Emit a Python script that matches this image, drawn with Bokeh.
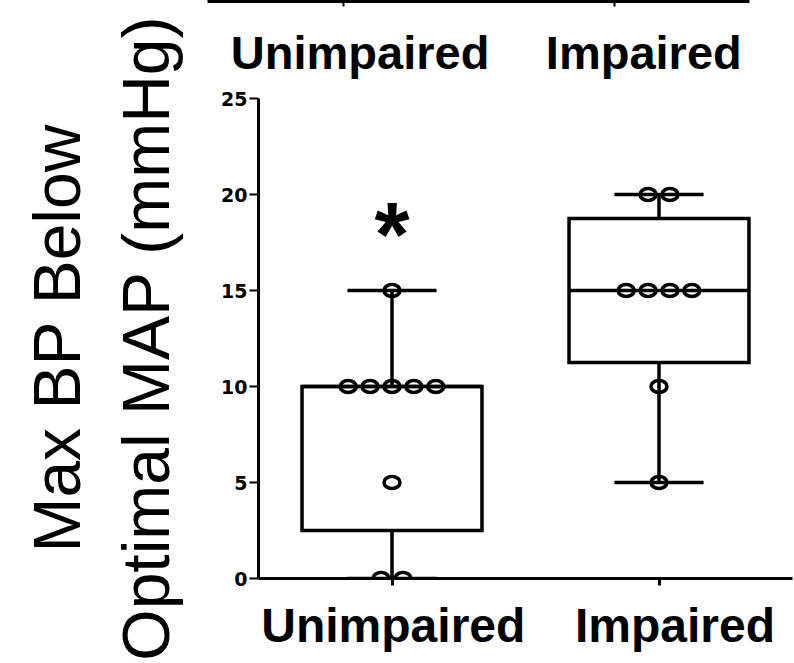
import numpy as np
from bokeh.plotting import figure
from bokeh.models import Range1d, FixedTicker, LinearAxis
from bokeh.layouts import row, column
from bokeh.core.properties import value
from bokeh.embed import file_html
from bokeh.resources import INLINE

# ---- data ---------------------------------------------------------------
groups = ["Unimpaired", "Impaired"]
unimpaired = [0, 0, 5, 10, 10, 10, 10, 10, 15]
impaired = [5, 10, 15, 15, 15, 15, 20, 20]
y_ticks = [0, 5, 10, 15, 20, 25]
y_label = "Max BP Below\nOptimal MAP (mmHg)"
significance = "*"

series = [unimpaired, impaired]
positions = list(range(len(groups)))

# ---- styling ------------------------------------------------------------
BOLD_FONT = "Liberation Sans"
TICK_FONT = "DejaVu Sans"
BOX_WIDTH = 0.674      # box width in x units
CAP_WIDTH = 0.334      # whisker cap width in x units
SPREAD = 0.082         # horizontal spacing of tied points in x units
LW = 3.5
# category names sit slightly right of their tick marks (x units)
MAIN_LABEL_SHIFT = [0.005, 0.06]
TOP_LABEL_SHIFT = [0.063, 0.11]

# quartiles with the (n+1)p rule
q1 = [float(np.percentile(s, 25, method="weibull")) for s in series]
med = [float(np.percentile(s, 50, method="weibull")) for s in series]
q3 = [float(np.percentile(s, 75, method="weibull")) for s in series]
lo = [min(s) for s in series]
hi = [max(s) for s in series]

# spread tied values side by side around the group centre
px, py = [], []
for i, s in zip(positions, series):
    vals, counts = np.unique(s, return_counts=True)
    for v, c in zip(vals, counts):
        for k in range(c):
            px.append(i + (k - (c - 1) / 2) * SPREAD)
            py.append(float(v))


def tick_only_axis(axis, tick_out, tick_width):
    axis.ticker = FixedTicker(ticks=positions)
    axis.major_label_overrides = {pos: "" for pos in positions}
    axis.major_label_text_font_size = "0px"
    axis.major_label_standoff = 0
    axis.axis_line_width = 3
    axis.axis_line_color = "black"
    axis.major_tick_out = tick_out
    axis.major_tick_in = 0
    axis.major_tick_line_width = tick_width
    axis.minor_tick_out = 0
    axis.minor_tick_in = 0


def category_label_axis(shift, standoff, size):
    locs = [pos + d for pos, d in zip(positions, shift)]
    ax = LinearAxis(ticker=FixedTicker(ticks=locs),
                    major_label_overrides={loc: g for loc, g in zip(locs, groups)})
    ax.axis_line_color = None
    ax.major_tick_out = 0
    ax.major_tick_in = 0
    ax.minor_tick_out = 0
    ax.minor_tick_in = 0
    ax.major_label_standoff = standoff
    ax.major_label_text_font = BOLD_FONT
    ax.major_label_text_font_style = "bold"
    ax.major_label_text_font_size = size
    ax.major_label_text_color = "black"
    return ax


# ---- y-axis title panel -------------------------------------------------
title_fig = figure(width=200, height=663, x_axis_location=None,
                   output_backend="svg", toolbar_location=None,
                   min_border_left=199, min_border_right=0,
                   min_border_top=12, min_border_bottom=0,
                   x_range=Range1d(0, 1), y_range=Range1d(0, 1),
                   frame_align=False)
title_fig.outline_line_color = None
title_fig.grid.visible = False
ya = title_fig.yaxis[0]
ya.ticker = FixedTicker(ticks=[])
ya.axis_line_color = None
ya.major_tick_out = 0
ya.major_tick_in = 0
ya.minor_tick_out = 0
ya.minor_tick_in = 0
ya.major_label_standoff = 0
ya.major_label_text_font_size = "0px"
ya.axis_label = y_label
ya.axis_label_text_font = "Liberation Sans"
ya.axis_label_text_font_style = "normal"
ya.axis_label_text_font_size = "66px"
ya.axis_label_text_color = "black"
ya.axis_label_standoff = 17

# ---- upper panel's category axis ----------------------------------------
top_fig = figure(width=594, height=86, y_axis_location=None,
                 output_backend="svg", toolbar_location=None,
                 min_border_left=7, min_border_right=45,
                 min_border_top=0, min_border_bottom=85,
                 x_range=Range1d(-0.5, 1.5), y_range=Range1d(0, 1),
                 frame_align=False)
top_fig.outline_line_color = None
top_fig.grid.visible = False
tick_only_axis(top_fig.xaxis[0], tick_out=5, tick_width=2)
top_fig.add_layout(category_label_axis(TOP_LABEL_SHIFT, 19, "47px"), "below")

# ---- main box plot ------------------------------------------------------
p = figure(width=594, height=577, output_backend="svg", toolbar_location=None,
           x_range=Range1d(-0.5, 1.5), y_range=Range1d(0, 25),
           min_border_left=58, min_border_right=2,
           min_border_top=12, min_border_bottom=85,
           frame_align=False)
p.outline_line_color = None
p.grid.visible = False

# boxes
p.vbar(x=positions, width=BOX_WIDTH, bottom=q1, top=q3,
       fill_color=None, line_color="black", line_width=LW, line_join="miter")
# whiskers
p.segment(x0=positions, y0=lo, x1=positions, y1=q1, line_color="black", line_width=LW)
p.segment(x0=positions, y0=q3, x1=positions, y1=hi, line_color="black", line_width=LW)
# caps
cap_l = [x - CAP_WIDTH / 2 for x in positions]
cap_r = [x + CAP_WIDTH / 2 for x in positions]
p.segment(x0=cap_l, y0=lo, x1=cap_r, y1=lo, line_color="black", line_width=LW)
p.segment(x0=cap_l, y0=hi, x1=cap_r, y1=hi, line_color="black", line_width=LW)
# medians
box_l = [x - BOX_WIDTH / 2 for x in positions]
box_r = [x + BOX_WIDTH / 2 for x in positions]
p.segment(x0=box_l, y0=med, x1=box_r, y1=med, line_color="black", line_width=LW)

# individual observations (open rings)
p.ellipse(x=px, y=py, width=16, height=12, width_units="screen", height_units="screen",
          fill_color=None, line_color="black", line_width=3.5)

# significance mark above the first group
p.text(x=[positions[0]], y=[hi[0]], text=[significance],
       text_font=value(BOLD_FONT), text_font_style="bold", text_font_size="90px",
       text_align="center", text_baseline="alphabetic", y_offset=-56, text_color="black")

tick_only_axis(p.xaxis[0], tick_out=7, tick_width=3)
p.add_layout(category_label_axis(MAIN_LABEL_SHIFT, 13, "48px"), "below")

yax = p.yaxis[0]
yax.ticker = FixedTicker(ticks=y_ticks)
yax.axis_line_width = 3
yax.axis_line_color = "black"
yax.major_tick_out = 9
yax.major_tick_in = 0
yax.major_tick_line_width = 2
yax.minor_tick_out = 0
yax.major_label_standoff = 2
yax.major_label_text_font = TICK_FONT
yax.major_label_text_font_style = "bold"
yax.major_label_text_font_size = "19px"
yax.major_label_text_color = "black"

layout = row(title_fig, column(top_fig, p, spacing=0), spacing=0)

open("out.html", "w").write(file_html(layout, INLINE))
